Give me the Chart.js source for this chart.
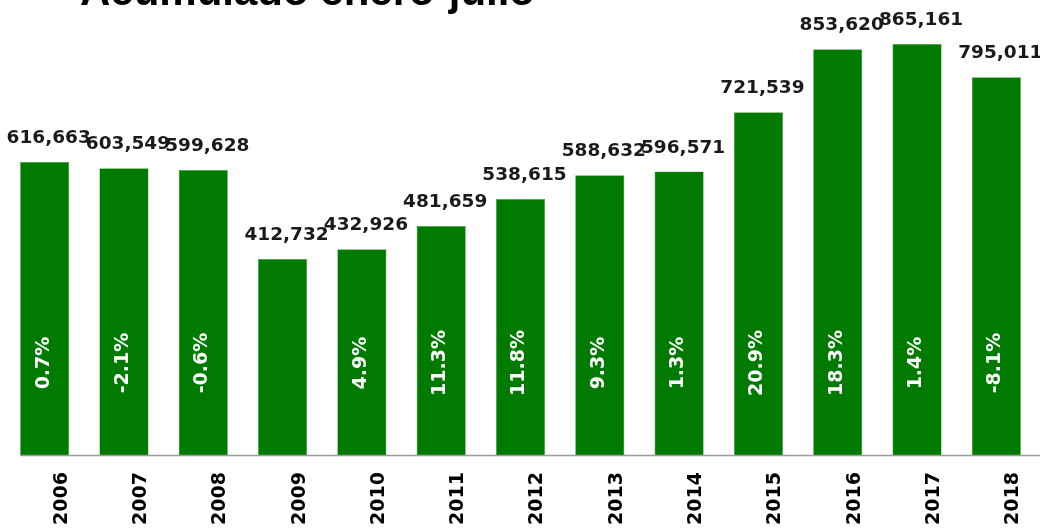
<!DOCTYPE html>
<html>
<head>
<meta charset="utf-8">
<script src="https://cdn.jsdelivr.net/npm/chart.js@4.4.1/dist/chart.umd.min.js"></script>
<style>
  html, body { margin: 0; padding: 0; background: #ffffff; }
  #wrap { width: 1040px; height: 528px; position: relative; }
</style>
</head>
<body>
<div id="wrap"><canvas id="c" width="1040" height="528"></canvas></div>
<script>
const titleText = 'Acumulado enero-julio';
const years = ['2006','2007','2008','2009','2010','2011','2012','2013','2014','2015','2016','2017','2018'];
const totals = [616663, 603549, 599628, 412732, 432926, 481659, 538615, 588632, 596571, 721539, 853620, 865161, 795011];
const changes = [0.7, -2.1, -0.6, null, 4.9, 11.3, 11.8, 9.3, 1.3, 20.9, 18.3, 1.4, -8.1];

const fmt = v => v.toLocaleString('en-US');

const labelsPlugin = {
  id: 'labelsPlugin',
  afterDatasetsDraw(chart) {
    const ctx = chart.ctx;
    const meta = chart.getDatasetMeta(0);
    const area = chart.chartArea;
    ctx.save();
    const first = meta.data[0];
    ctx.strokeStyle = '#9c9c9c';
    ctx.lineWidth = 1.5;
    ctx.beginPath();
    ctx.moveTo(first.x - first.width / 2, area.bottom + 0.5);
    ctx.lineTo(chart.width, area.bottom + 0.5);
    ctx.stroke();

    meta.data.forEach((bar, i) => {
      ctx.fillStyle = '#1a1a1a';
      ctx.font = 'bold 18.5px "DejaVu Sans"';
      ctx.textAlign = 'center';
      ctx.textBaseline = 'alphabetic';
      ctx.fillText(fmt(totals[i]), bar.x + 4, bar.y - 19);
      if (changes[i] !== null) {
        ctx.save();
        ctx.translate(bar.x - 1, area.bottom - 92);
        ctx.rotate(-Math.PI / 2);
        ctx.fillStyle = '#ffffff';
        ctx.font = 'bold 19px "DejaVu Sans"';
        ctx.textAlign = 'center';
        ctx.textBaseline = 'middle';
        ctx.fillText(changes[i].toFixed(1) + '%', 0, 0);
        ctx.restore();
      }
    });

    ctx.fillStyle = '#000000';
    ctx.font = 'bold 42px "Liberation Sans"';
    ctx.textAlign = 'left';
    ctx.textBaseline = 'alphabetic';
    ctx.fillText(titleText, 80, 5);
    ctx.restore();
  }
};

new Chart(document.getElementById('c'), {
  type: 'bar',
  data: {
    labels: years,
    datasets: [{
      data: totals,
      backgroundColor: '#007a00',
      borderColor: '#4a9e4a',
      borderWidth: 0.6,
      barPercentage: 0.62,
      categoryPercentage: 1.0
    }]
  },
  options: {
    responsive: false,
    animation: false,
    devicePixelRatio: 1,
    layout: { padding: { left: 5, right: 4, top: 5, bottom: 0 } },
    plugins: {
      legend: { display: false },
      tooltip: { enabled: false },
      title: { display: false }
    },
    scales: {
      x: {
        grid: { display: false, drawTicks: false },
        border: { display: false },
        afterFit(scale) { scale.height = 73; },
        ticks: {
          minRotation: 90,
          maxRotation: 90,
          labelOffset: 17,
          padding: 17,
          color: '#000000',
          font: { family: 'DejaVu Sans', weight: 'bold', size: 19 }
        }
      },
      y: {
        display: false,
        min: 0,
        max: 947000
      }
    }
  },
  plugins: [labelsPlugin]
});
</script>
</body>
</html>
